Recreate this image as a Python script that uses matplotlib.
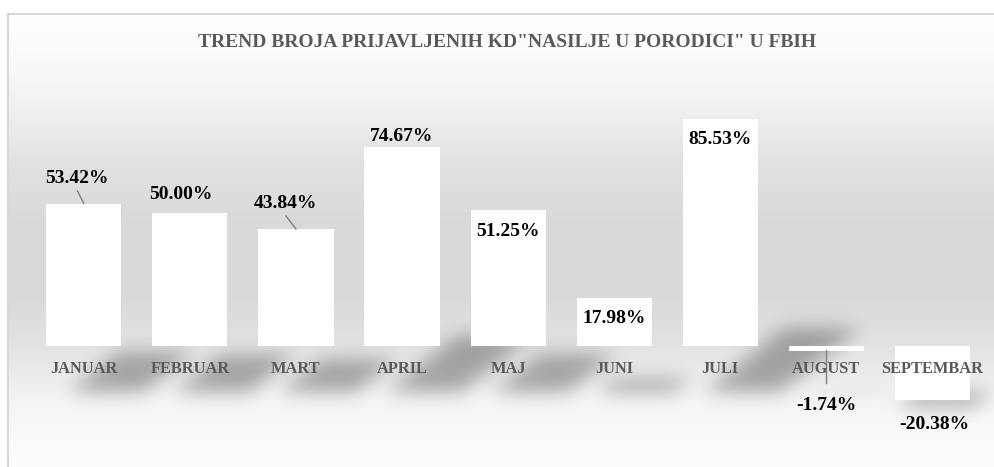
import numpy as np
import matplotlib.pyplot as plt
from matplotlib.path import Path

# podaci
months = ['JANUAR', 'FEBRUAR', 'MART', 'APRIL', 'MAJ', 'JUNI', 'JULI', 'AUGUST', 'SEPTEMBAR']
trend = [53.42, 50.00, 43.84, 74.67, 51.25, 17.98, 85.53, -1.74, -20.38]
title = 'TREND BROJA PRIJAVLJENIH KD"NASILJE U PORODICI" U FBIH'

# pozicije natpisa (pomak x, y u jedinicama osi), rucno kao u Excelu
label_pos = [(-0.06, 62.8), (-0.085, 57.1), (-0.10, 53.4), (0, 78.9), (0, 43.2),
             (0, 10.2), (0, 77.8), (0, -22.2), (0.015, -29.7)]
leaders = {0: ((-0.06, 58.3), (0, 53.6)),
           2: ((-0.094, 48.9), (0, 44.0)),
           7: ((0, -1.6), (0, -14.0))}

W, H = 995, 467
fig = plt.figure(figsize=(W / 100, H / 100), dpi=100)

bg = fig.add_axes([0, 0, 1, 1])
bg.set_xlim(0, W)
bg.set_ylim(0, H)
bg.axis('off')

ax = fig.add_axes([0, 0, 1, 1])
ax.set_xlim(-0.79, 8.59)
ax.set_ylim(-45.5, 130.1)
ax.patch.set_alpha(0)
ax.axis('off')

# pozadina - vertikalni gradijent
rows = np.arange(H) + 0.5
stops_y = [14, 70, 110, 160, 220, 300, 340, 370, 400, 440, 467]
stops_g = [255, 249, 240, 226, 218, 218, 225, 234, 244, 251, 253]
g = np.interp(rows, stops_y, stops_g) / 255.0
img = np.ones((H, W, 3))
img[:, :, :] = g[:, None, None]
img[:14, :, :] = 1.0
img[:, :8, :] = 1.0
bg.imshow(img, extent=(0, W, 0, H), origin='upper', aspect='auto', zorder=0)
bg.plot([8, 8], [0, H - 13.5], color='#d9d9d9', lw=1.5, zorder=1)
bg.plot([8, W], [H - 13.5, H - 13.5], color='#d9d9d9', lw=1.5, zorder=1)

# sjene ispod stubaca
width = 0.708
fig.canvas.draw()
base = ax.transData.transform((0, 0))[1]
yy, xx = np.mgrid[0:H, 0:W] + 0.5
pts = np.column_stack([xx.ravel(), yy.ravel()])
mask = np.zeros(H * W)
for i, v in enumerate(trend):
    (x0, y0), (x1, y1) = ax.transData.transform([(i - width / 2, 0), (i + width / 2, v)])
    corners = [(x0, y0), (x1, y0), (x1, y1), (x0, y1)]
    poly = []
    for cx, cy in corners:
        hgt = cy - base
        poly.append((cx + 22 + 0.35 * hgt, base - 46 + 0.28 * hgt))
    mask = np.maximum(mask, Path(poly).contains_points(pts))
mask = mask.reshape(H, W)
sig = 9
k = np.exp(-0.5 * (np.arange(-3 * sig, 3 * sig + 1) / sig) ** 2)
k /= k.sum()
mask = np.apply_along_axis(lambda r: np.convolve(r, k, mode='same'), 1, mask)
mask = np.apply_along_axis(lambda c: np.convolve(c, k, mode='same'), 0, mask)
shadow = np.zeros((H, W, 4))
shadow[:, :, 3] = mask * 0.3
bg.imshow(shadow, extent=(0, W, 0, H), origin='lower', aspect='auto', zorder=2)

x = np.arange(len(months))
ax.bar(x, trend, width=width, color='white', edgecolor='none', zorder=3)

font = 'Liberation Serif'
for i, m in enumerate(months):
    ax.text(i, -8.8, m, ha='center', va='center', fontsize=11.8, fontweight='bold',
            color='#595959', family=font, zorder=5)

for i, v in enumerate(trend):
    dx, ly = label_pos[i]
    ax.text(i + dx, ly, f'{v:.2f}%', ha='center', va='center', fontsize=14,
            fontweight='bold', color='black', family=font, zorder=6)

for i, (p0, p1) in leaders.items():
    ax.plot([i + p0[0], i + p1[0]], [p0[1], p1[1]], color='#7f7f7f', lw=1, zorder=4)

fig.text(0.51, 1 - 42.5 / H, title, ha='center', va='center', fontsize=14,
         fontweight='bold', color='#595959', family=font)

fig.savefig('out.png', dpi=100)
